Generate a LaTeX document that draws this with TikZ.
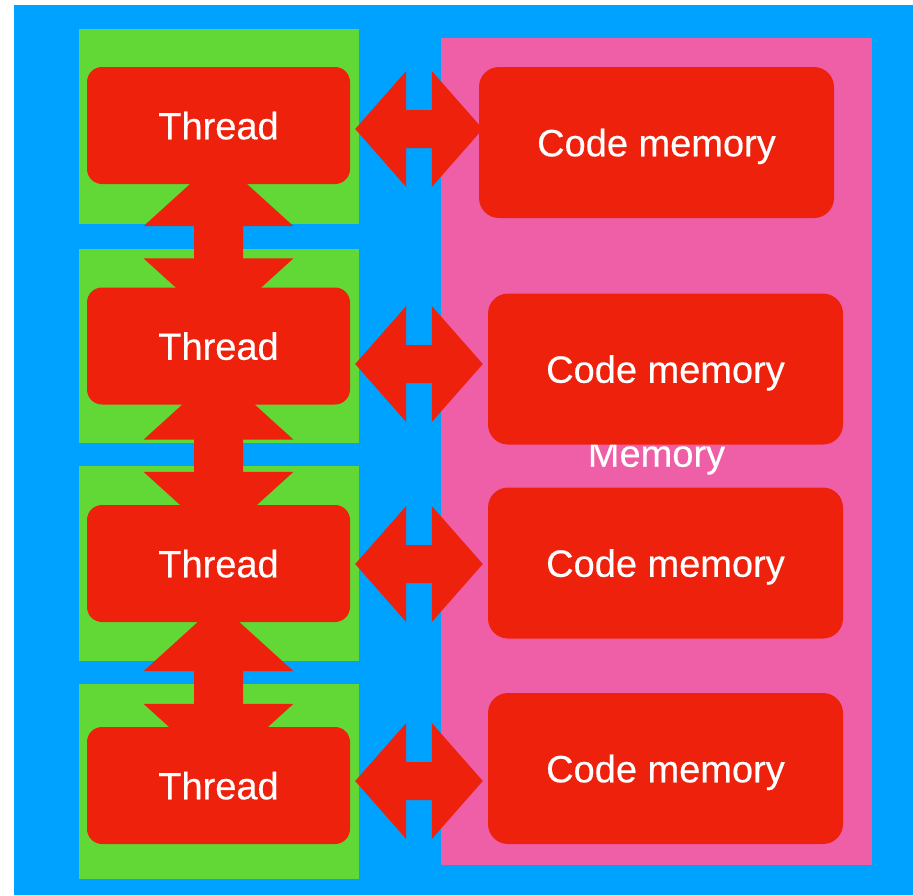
\documentclass[tikz,border=0pt]{standalone}
\usepackage{fontspec}
\setmainfont{Liberation Sans}
\newfontfamily\labelface{Liberation Sans}[FakeBold=0.4]
\usetikzlibrary{calc}
\definecolor{bgblue}{RGB}{0,162,255}
\definecolor{lanegreen}{RGB}{97,216,54}
\definecolor{mempink}{RGB}{239,95,167}
\definecolor{boxred}{RGB}{238,34,12}
\pgfdeclarelayer{back}
\pgfdeclarelayer{links}
\pgfsetlayers{back,links,main}

% double-headed block arrow between two thread boxes (top apex, bottom apex)
\newcommand\threadlink[2]{%
  \fill[boxred] (#1) -- ($(#1)+(75,68)$) -- ($(#1)+(24.5,68)$)
    -- ($(#2)+(24.5,-68)$) -- ($(#2)+(75,-68)$) -- (#2)
    -- ($(#2)+(-75,-68)$) -- ($(#2)+(-24.5,-68)$)
    -- ($(#1)+(-24.5,68)$) -- ($(#1)+(-75,68)$) -- cycle;}
% double-headed block arrow from a thread to its code memory (left apex, right apex)
\newcommand\memlink[2]{%
  \fill[boxred] (#1) -- ($(#1)+(51,-58)$) -- ($(#1)+(51,-19)$)
    -- ($(#2)+(-51,-19)$) -- ($(#2)+(-51,-58)$) -- (#2)
    -- ($(#2)+(-51,58)$) -- ($(#2)+(-51,19)$)
    -- ($(#1)+(51,19)$) -- ($(#1)+(51,58)$) -- cycle;}

\begin{document}
\begin{tikzpicture}[x=1pt,y=-1pt,
  labelfont/.style={font=\labelface\fontsize{38}{40}\selectfont, text=white},
  threadbox/.style={labelfont, fill=boxred, rounded corners=15pt,
    minimum width=263pt, minimum height=117pt, inner sep=0pt, text depth=0pt},
  codebox/.style={labelfont, fill=boxred, rounded corners=20pt,
    minimum width=355pt, minimum height=151pt, inner sep=0pt, text depth=0pt},
  lane/.style={fill=lanegreen},
  memarea/.style={fill=mempink}]

\useasboundingbox (0,0) rectangle (913,895);

% threads
\node[threadbox] (t1) at (218.5,125.5) {Thread};
\node[threadbox] (t2) at (218.5,346) {Thread};
\node[threadbox] (t3) at (218.5,563.5) {Thread};
\node[threadbox] (t4) at (218.5,785.5) {Thread};

% code memories
\node[codebox] (c1) at (656.5,142.5) {Code memory};
\node[codebox] (c2) at (665.5,369) {Code memory};
\node[codebox] (c3) at (665.5,563) {Code memory};
\node[codebox] (c4) at (665.5,768.5) {Code memory};

% canvas, thread lanes and the memory area
\begin{pgfonlayer}{back}
  \fill[white] (0,0) rectangle (913,895);
  \fill[bgblue] (14,5) rectangle (913,895);
  \fill[lane] (79,29) rectangle (359,224);
  \fill[lane] (79,249) rectangle (359,443);
  \fill[lane] (79,466) rectangle (359,660.5);
  \fill[lane] (79,684) rectangle (359,878.5);
  \fill[memarea] (441,38) rectangle (872,865);
  \node[labelfont, anchor=base, inner sep=0pt] (memlabel) at (656.5,466.7) {Memory};
\end{pgfonlayer}

% arrow end points
\coordinate (v1a) at ([yshift=26pt]t1.south);
\coordinate (v1b) at ([yshift=-39pt]t2.north);
\coordinate (v2a) at ([yshift=33pt]t2.south);
\coordinate (v2b) at ([yshift=-35pt]t3.north);
\coordinate (v3a) at ([yshift=19pt]t3.south);
\coordinate (v3b) at ([yshift=-45pt]t4.north);

\coordinate (h1a) at ([shift={(5pt,-3.5pt)}]t1.east);
\coordinate (h1b) at ($(h1a -| c1.west)+(4,0)$);
\coordinate (h2a) at ([shift={(5pt,-18pt)}]t2.east);
\coordinate (h2b) at ($(h2a -| c2.west)+(-5,0)$);
\coordinate (h3a) at ([shift={(5pt,-0.5pt)}]t3.east);
\coordinate (h3b) at ($(h3a -| c3.west)+(-5,0)$);
\coordinate (h4a) at ([shift={(5pt,4.5pt)}]t4.east);
\coordinate (h4b) at ($(h4a -| c4.west)+(-5,0)$);

\begin{pgfonlayer}{links}
  \threadlink{v1a}{v1b}
  \threadlink{v2a}{v2b}
  \threadlink{v3a}{v3b}
  \memlink{h1a}{h1b}
  \memlink{h2a}{h2b}
  \memlink{h3a}{h3b}
  \memlink{h4a}{h4b}
\end{pgfonlayer}
\end{tikzpicture}
\end{document}
